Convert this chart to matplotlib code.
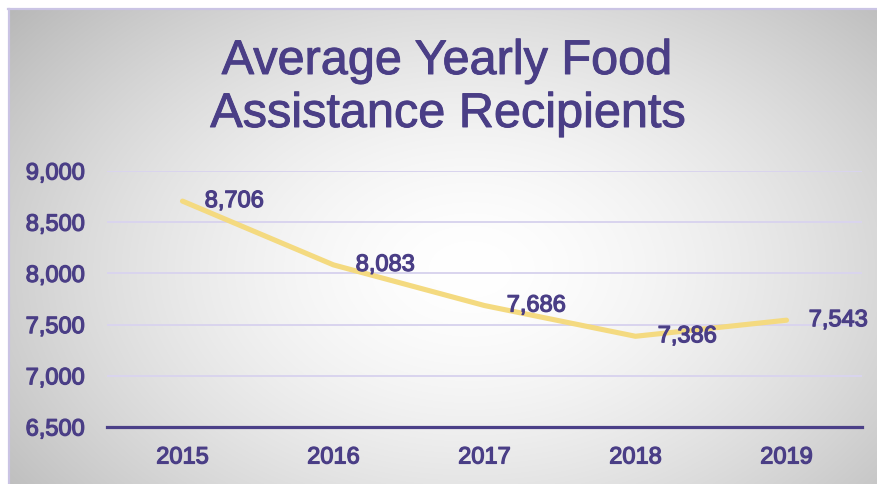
import numpy as np
import matplotlib
matplotlib.use("Agg")
import matplotlib.pyplot as plt
import matplotlib.patheffects as pe
from matplotlib.patches import Rectangle
from matplotlib.ticker import FuncFormatter

# data
years = ["2015", "2016", "2017", "2018", "2019"]
recipients = [8706, 8083, 7686, 7386, 7543]
y_ticks = [6500, 7000, 7500, 8000, 8500, 9000]

TEXT = "#4A3E86"
LINE = "#F4DA80"
GRID = "#D9D4EE"
AXIS = "#4B4088"

plt.rcParams["font.family"] = ["Liberation Sans", "DejaVu Sans"]

# slightly heavier strokes, like the reference's text rendering
heavy = [pe.withStroke(linewidth=0.7, foreground=TEXT)]
heavier = [pe.withStroke(linewidth=0.9, foreground=TEXT)]

W, H = 878, 485
fig = plt.figure(figsize=(W / 100, H / 100), dpi=100)

# background: radial grey-to-white gradient inside a lavender frame
bg = fig.add_axes([0, 0, 1, 1])
bg.set_xlim(0, W)
bg.set_ylim(H, 0)
bg.axis("off")
xx, yy = np.meshgrid(np.arange(W), np.arange(H))
d = np.sqrt(((xx - 470) / 560.0) ** 2 + ((yy - 270) / 380.0) ** 2)
shade = 255 - 64 * np.clip(d, 0, 1.2) ** 1.6
img = np.dstack([shade, shade, shade]) / 255.0
bg.imshow(img, extent=(0, W, H, 0), aspect="auto", zorder=0)
bg.add_patch(Rectangle((0, 0), W, 9, color="white", zorder=1))
bg.add_patch(Rectangle((0, 0), 8, H, color="white", zorder=1))
bg.plot([8, W], [10, 10], color="#CAC4E4", lw=1.6, zorder=2)
bg.plot([9, 9], [10, H], color="#CAC4E4", lw=1.6, zorder=2)

# title
fig.text(447 / W, 1 - 75 / H, "Average Yearly Food", ha="center", va="baseline",
         fontsize=35, color=TEXT, path_effects=heavy)
fig.text(448 / W, 1 - 128 / H, "Assistance Recipients", ha="center", va="baseline",
         fontsize=35, color=TEXT, path_effects=heavy)

ax = fig.add_axes([107 / W, 1 - 428 / H, (862 - 107) / W, (428 - 172) / H])
ax.set_facecolor("none")
x = np.arange(len(years))
ax.plot(x, recipients, color=LINE, lw=3.7, solid_capstyle="round",
        solid_joinstyle="round", zorder=3)
for xi, v in zip(x, recipients):
    ax.annotate(f"{v:,}", (xi, v), xytext=(16, 0), textcoords="offset points",
                ha="left", va="center", fontsize=17, color=TEXT, zorder=4,
                path_effects=heavier)

ax.set_xlim(-0.5, len(years) - 0.5)
ax.set_ylim(6500, 9000)
ax.set_yticks(y_ticks)
ax.yaxis.set_major_formatter(FuncFormatter(lambda v, p: f"{int(v):,}"))
ax.set_xticks(x)
ax.set_xticklabels(years)
ax.tick_params(axis="both", length=0, labelsize=17, labelcolor=TEXT)
ax.tick_params(axis="y", pad=16)
ax.tick_params(axis="x", pad=14)
for lbl in ax.get_xticklabels() + ax.get_yticklabels():
    lbl.set_path_effects(heavier)
for t in y_ticks[1:]:
    ax.axhline(t, color=GRID, lw=1.4, zorder=1)
for s in ["top", "right", "left"]:
    ax.spines[s].set_visible(False)
ax.spines["bottom"].set_color(AXIS)
ax.spines["bottom"].set_linewidth(2.3)

fig.savefig("out.png", dpi=100)
